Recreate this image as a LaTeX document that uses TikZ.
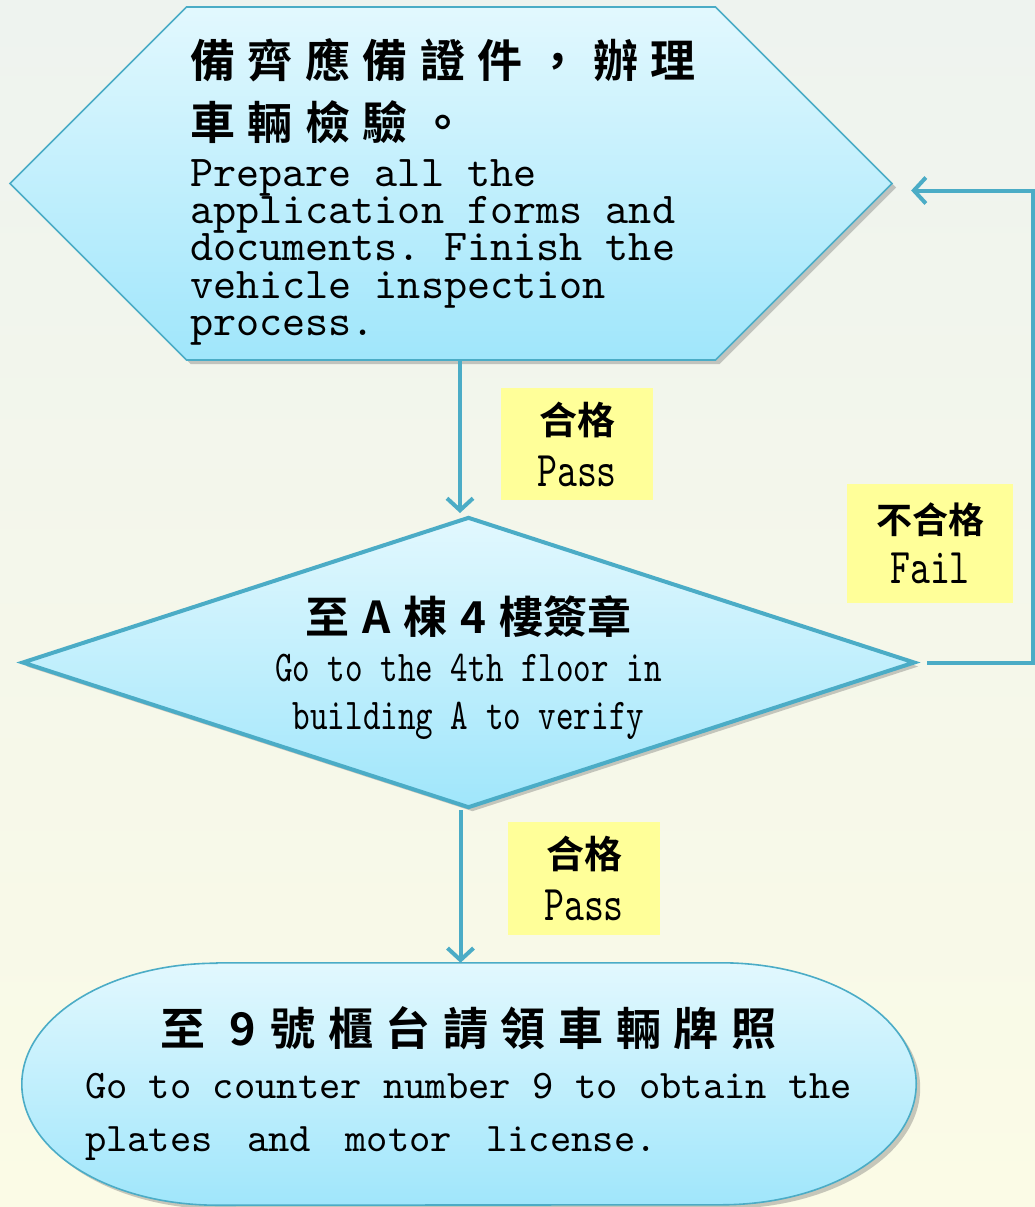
\documentclass[tikz,border=0pt]{standalone}
\usepackage{fontspec}
\usetikzlibrary{shapes.geometric, shapes.symbols, arrows.meta, shadows}
\newfontfamily\cjk{Noto Sans CJK TC Bold}
\newfontfamily\cjkwide{Noto Sans CJK TC Bold}[LetterSpace=28]
\newfontfamily\mono{lmmono10-regular.otf}
\newfontfamily\narrow{lmmono10-regular.otf}[FakeStretch=0.76]
% size, baseline skip, word space
\newcommand\monotext[3]{\mono\fontsize{#1}{#2}\selectfont\spaceskip=#3\relax\xspaceskip=#3\relax}
\newcommand\narrowtext[3]{\narrow\fontsize{#1}{#2}\selectfont\spaceskip=#3\relax\xspaceskip=#3\relax}
\definecolor{edge}{HTML}{4BACC6}
\definecolor{fillTop}{HTML}{E2F8FE}
\definecolor{fillBot}{HTML}{A0E6FB}
\definecolor{tagYellow}{HTML}{FFFF99}
\definecolor{bgTop}{HTML}{EEF3EF}
\definecolor{bgBot}{HTML}{FBFBE6}
\pgfdeclarelayer{background}
\pgfsetlayers{background,main}
\tikzset{
  shapefill/.style={top color=fillTop, bottom color=fillBot, draw=edge},
  shadowed/.style={drop shadow={shadow xshift=4pt, shadow yshift=-4pt, opacity=0.35, fill=black!60}},
  flow/.style={draw=edge, line width=4pt, -{Straight Barb[length=12pt, width=26pt]}},
  tag/.style={fill=tagYellow, inner sep=0pt, text width=#1, align=center},
  every node/.style={execute at begin node={\setlength{\parindent}{0pt}}}
}

\begin{document}
\begin{tikzpicture}[x=1pt, y=-1pt]
  \useasboundingbox (0,0) rectangle (1035,1207);

  % steps
  \node[signal, signal to=east and west, signal pointer angle=90,
        minimum width=882pt, minimum height=353pt, inner sep=0pt,
        shapefill, line width=1.6pt, shadowed, text width=522pt, align=left]
    (prep) at (451,183.5)
    {{\cjkwide\fontsize{45pt}{62pt}\selectfont \rule{0pt}{56pt}備齊應備證件，辦理\\車輛檢驗。\par}
     \vspace{9pt}
     {\monotext{44pt}{37.3pt}{23.1pt}Prepare all the\\application forms and\\documents. Finish the\\vehicle inspection\\process.\par}};

  \node[diamond, shape aspect=3.07, minimum width=893pt, minimum height=291pt,
        inner sep=0pt, shapefill, line width=4pt, shadowed, text width=395pt, align=center]
    (verify) at (468.5,662.5)
    {{\cjk\fontsize{44pt}{50pt}\selectfont \rule{0pt}{49pt}至\hspace{13pt}A\hspace{13pt}棟\hspace{13pt}4\hspace{13pt}樓簽章\par}
     {\narrowtext{44pt}{48pt}{17.6pt}Go to the 4th floor in\\building A to verify\par}};

  \node[minimum width=894pt, minimum height=242pt, inner sep=0pt,
        text width=768pt, align=left]
    (final) at (469,1084)
    {{\hspace*{75pt}\cjkwide\fontsize{45pt}{50pt}\selectfont 至\hspace{25pt}9\hspace{14pt}號櫃台請領車輛牌照\par}
     {\monotext{40.6pt}{53pt}{21.3pt}Go to counter number 9 to obtain the\\plates\hspace{13pt} and\hspace{13pt} motor\hspace{13pt} license.\par}};

  % labels
  \node[tag=152pt, minimum height=112pt] (passTop) at (577,444)
    {{\cjk\fontsize{38pt}{38pt}\selectfont 合格\par}{\narrowtext{50pt}{52pt}{20pt}Pass\par}};
  \node[tag=152pt, minimum height=113pt] (passBot) at (584,878.5)
    {{\cjk\fontsize{38pt}{38pt}\selectfont 合格\par}{\narrowtext{50pt}{52pt}{20pt}Pass\par}};
  \node[tag=166pt, minimum height=119pt] (failTag) at (930,543.5)
    {{\cjk\fontsize{36pt}{36pt}\selectfont 不合格\par}{\narrowtext{50pt}{50pt}{20pt}Fail\par}};

  % background and end box
  \begin{pgfonlayer}{background}
    \fill[top color=bgTop, bottom color=bgBot] (0,0) rectangle (1035,1207);
    \path[shapefill, line width=1.6pt, shadowed]
      ([xshift=195pt]final.north west) -- ([xshift=-195pt]final.north east)
      arc[start angle=90, end angle=0, x radius=195pt, y radius=121pt]
      arc[start angle=0, end angle=-90, x radius=195pt, y radius=121pt]
      -- ([xshift=195pt]final.south west)
      arc[start angle=-90, end angle=-180, x radius=195pt, y radius=121pt]
      arc[start angle=180, end angle=90, x radius=195pt, y radius=121pt]
      -- cycle;
  \end{pgfonlayer}

  % connectors
  \coordinate (failTurn) at (1033,662.5);
  \draw[flow, shorten >=2pt] ([xshift=9pt]prep.south) -- ([xshift=9pt]prep.south |- verify.north);
  \draw[flow] ([xshift=-8pt]verify.south) -- ([xshift=-8pt]verify.south |- final.north);
  \draw[flow, shorten <=10pt, shorten >=18pt] (verify.east) -- (failTurn) |- ([yshift=-7pt]prep.east);
\end{tikzpicture}
\end{document}
